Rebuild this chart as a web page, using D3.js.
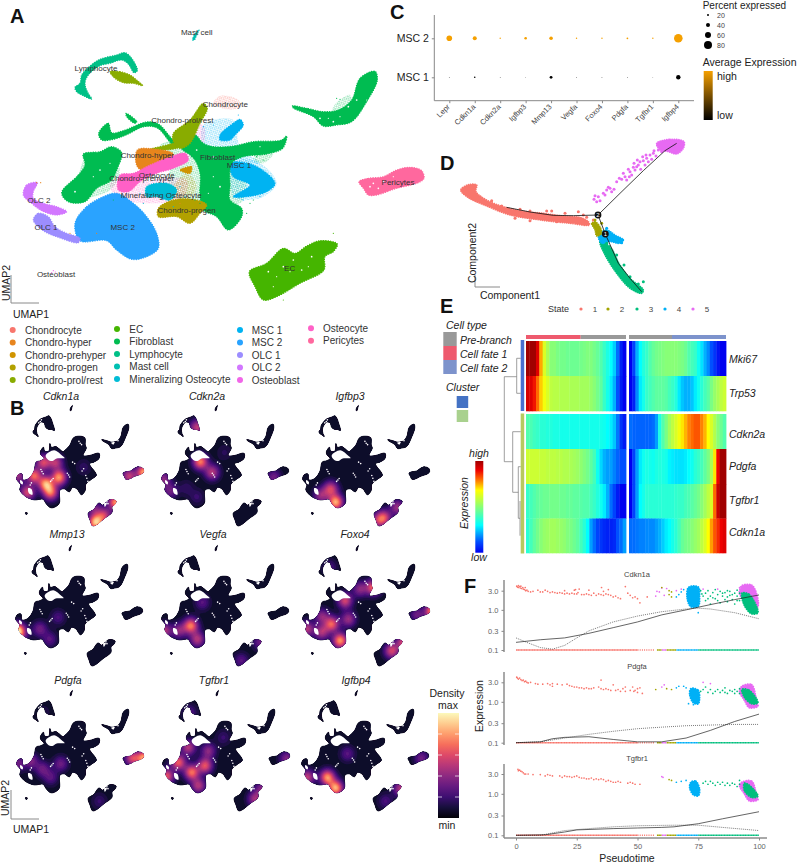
<!DOCTYPE html>
<html><head><meta charset="utf-8">
<script src="https://cdn.jsdelivr.net/npm/d3@7"></script>
<style>html,body{margin:0;padding:0;background:#fff}svg{display:block}text{font-family:"Liberation Sans",Arial,sans-serif}</style>
</head><body><svg id="c" width="800" height="863"></svg>
<script>
// ---------- DATA ----------
const clusterNames=["Chondrocyte","Chondro-hyper","Chondro-prehyper","Chondro-progen","Chondro-prol/rest","EC","Fibroblast","Lymphocyte","Mast cell","Mineralizing Osteocyte","MSC 1","MSC 2","OLC 1","OLC 2","Osteoblast","Osteocyte","Pericytes"];
const clusterColors=["#F8766D","#E7851E","#D09400","#B2A100","#89AC00","#45B500","#00BC51","#00C087","#00C0B2","#00BCD6","#00B3F2","#29A3FF","#9C8DFF","#D277FF","#F166E8","#FF61C7","#FF689E"];
const umapSparse=[
 ["Fibroblast",[[260,470],[340,470],[360,520],[330,570],[280,590],[240,590],[235,540]]],
 ["Fibroblast",[[650,490],[720,490],[740,560],[720,610],[640,600]]],
 ["Fibroblast",[[780,450],[820,460],[790,490],[760,480]]],
 ["Fibroblast",[[520,490],[610,470],[620,600],[570,610],[510,570]]],
 ["Fibroblast",[[480,435],[540,425],[560,470],[500,470]]],
 ["MSC 1",[[610,375],[700,360],[720,440],[780,490],[740,490],[680,480],[640,470],[610,440]]],
 ["MSC 1",[[700,480],[780,490],[830,550],[790,590],[720,600],[700,590]]],
 ["Osteocyte",[[330,550],[440,540],[560,540],[550,590],[450,610],[350,590]]],
 ["Chondro-prehyper",[[500,600],[560,520],[590,560],[560,600]]],
 ["Chondrocyte",[[640,310],[660,288],[715,300],[722,322],[680,328]]],
 ["Osteocyte",[[555,385],[610,375],[605,450],[560,470]]],
 ["Chondro-hyper",[[240,660],[300,620],[290,700],[250,700]]],
 ["Fibroblast",[[1000,320],[1050,285],[1050,335],[1000,345]]]
];
const umapShapes=[
 ["Lymphocyte",[[225,262],[240,250],[245,225],[268,200],[300,178],[350,165],[375,158],[395,175],[412,212],[402,218],[385,192],[365,180],[330,190],[300,197],[265,225],[255,250],[262,275],[275,297],[250,287],[230,275]]],
 ["Chondro-prol/rest",[[330,215],[360,215],[390,225],[410,240],[428,257],[400,250],[370,248],[345,235]]],
 ["Mast cell",[[578,120],[583,105],[597,90],[590,105],[583,120]]],
 ["Fibroblast",[[877,318],[925,326],[970,335],[1015,330],[1055,300],[1080,235],[1125,214],[1132,240],[1100,305],[1055,365],[1010,375],[970,378],[940,350],[880,324]]],
 ["EC",[[748,815],[800,790],[850,745],[885,760],[920,738],[960,722],[1012,732],[1000,755],[975,770],[972,810],[900,850],[830,890],[790,900],[765,860]]],
 ["Pericytes",[[1077,545],[1105,535],[1150,530],[1190,510],[1230,502],[1265,512],[1272,535],[1255,548],[1190,565],[1130,585],[1105,585],[1090,565]]],
 ["Fibroblast",[[185,578],[235,525],[255,495],[250,462],[300,455],[335,440],[365,458],[350,510],[335,540],[290,565],[255,605],[205,605]]],
 ["Fibroblast",[[296,400],[325,370],[335,398],[370,392],[440,366],[475,372],[510,410],[535,438],[520,436],[472,384],[432,380],[380,404],[340,418],[305,420]]],
 ["Fibroblast",[[378,340],[410,365],[405,370],[380,350]]],
 ["Chondro-prol/rest",[[450,448],[490,438],[540,428],[540,440],[490,450]]],
 ["MSC 1",[[660,405],[700,370],[720,358],[730,375],[705,405],[690,420],[660,420]]],
 ["MSC 1",[[690,490],[760,495],[825,550],[800,575],[740,590],[700,590],[750,555],[700,530]]],
 ["Fibroblast",[[610,430],[640,440],[700,438],[760,425],[845,420],[860,408],[848,445],[800,462],[730,470],[695,490],[690,560],[690,600],[725,625],[725,650],[685,690],[650,650],[610,630],[600,590],[600,520],[585,480],[570,465],[545,445],[560,425],[585,405]]],
 ["Chondro-prol/rest",[[520,400],[570,360],[610,310],[622,325],[600,370],[570,430],[540,445],[520,425]]],
 ["Chondro-hyper",[[412,450],[460,447],[520,462],[510,490],[470,505],[440,515],[412,500]]],
 ["Osteocyte",[[360,525],[400,520],[440,500],[500,475],[555,460],[565,480],[520,505],[470,520],[420,545],[385,575],[355,570]]],
 ["Mineralizing Osteocyte",[[440,560],[500,550],[530,570],[510,600],[470,590],[440,590]]],
 ["Chondro-progen",[[475,625],[520,600],[590,600],[620,615],[600,640],[570,670],[530,650],[475,650]]],
 ["Chondro-prehyper",[[235,680],[255,640],[280,615],[290,625],[270,655],[250,690]]],
 ["Chondro-prehyper",[[540,510],[575,500],[570,520]]],
 ["MSC 2",[[225,670],[260,620],[310,590],[350,580],[400,610],[440,650],[470,700],[475,745],[440,770],[395,778],[350,750],[320,722],[240,722]]],
 ["OLC 1",[[100,660],[115,640],[145,650],[165,680],[200,700],[240,715],[235,728],[175,712],[130,692]]],
 ["OLC 2",[[70,585],[80,555],[112,548],[100,575],[100,595],[130,610],[170,620],[200,635],[170,645],[125,632],[95,610]]]
];
const umapStrays=[
 ["MSC 1",[[760,575],[780,590],[730,600],[745,580],[690,380],[715,345],[640,375],[610,380],[675,410],[695,475]]],
 ["Fibroblast",[[600,570],[585,600],[600,610],[760,600],[200,560],[340,600],[810,440],[790,480],[770,470],[1010,295],[1020,298],[690,610],[740,640],[750,610]]],
 ["Mineralizing Osteocyte",[[420,580],[540,560],[555,590],[430,610],[480,540],[520,620]]],
 ["Chondro-hyper",[[110,548],[122,548],[210,700],[290,700],[540,610]]],
 ["Osteoblast",[[160,812],[166,816],[155,818]]],
 ["EC",[[850,900],[1000,700]]]
];
const umapWhite=[[805,815,3],[850,800,3],[880,780,3],[830,830,2],[905,810,3],[935,770,3],[1020,350,2],[1045,320,3],[1070,300,3],[1000,365,3],[985,355,2],[1120,550,3],[1150,545,3],[1135,565,3],[1180,530,2],[1110,560,3],[640,470,3],[590,450,3],[225,575,3],[730,420,3],[780,440,2],[380,190,2],[260,240,2],[960,355,3],[925,800,2],[870,815,2],[820,860,2],[1100,300,2],[640,530,2],[660,560,3],[625,580,2],[300,510,3],[330,490,2],[280,530,2]];
const umapLabels=[["Mast cell",590,96],["Lymphocyte",288,206],["Chondrocyte",676,313],["Chondro-prol/rest",547,361],["Chondro-hyper",442,466],["Fibroblast",653,472],["MSC 1",717,495],["Osteocyte",470,525],["Chondro-prehyper",425,536],["Mineralizing Osteocyte",484,585],["OLC 2",117,601],["Chondro-progen",560,632],["OLC 1",138,681],["MSC 2",368,682],["EC",869,805],["Pericytes",1194,546],["Osteoblast",168,822]];
const legendColumns=[["Chondrocyte","Chondro-hyper","Chondro-prehyper","Chondro-progen","Chondro-prol/rest"],["EC","Fibroblast","Lymphocyte","Mast cell","Mineralizing Osteocyte"],["MSC 1","MSC 2","OLC 1","OLC 2","Osteoblast"],["Osteocyte","Pericytes"]];
const silhouette=[
 [[70,585],[85,555],[120,550],[130,590],[185,580],[235,530],[255,470],[300,460],[330,445],[300,420],[295,400],[325,370],[335,395],[375,395],[385,345],[400,370],[440,365],[510,400],[520,395],[570,360],[610,305],[660,295],[715,305],[720,355],[730,375],[700,425],[760,425],[850,410],[850,445],[800,470],[760,480],[820,545],[825,560],[770,590],[725,620],[720,660],[685,690],[640,650],[600,640],[570,670],[520,650],[480,660],[475,745],[440,770],[395,778],[350,750],[320,720],[240,725],[170,708],[120,680],[100,655],[110,625],[85,600]],
 [[225,262],[240,250],[245,225],[268,200],[300,178],[350,165],[375,158],[395,175],[412,210],[428,257],[400,250],[370,248],[345,235],[330,205],[300,200],[265,230],[258,250],[262,275],[275,297],[250,285],[230,275]],
 [[576,122],[581,105],[598,88],[592,106],[585,122]],
 [[877,318],[925,326],[970,335],[1015,330],[1055,300],[1080,235],[1125,214],[1132,240],[1100,305],[1055,365],[1010,375],[970,378],[940,350],[880,324]],
 [[748,815],[800,790],[850,745],[885,760],[920,738],[960,722],[1012,732],[1000,755],[975,770],[972,810],[900,850],[830,890],[790,900],[765,860]],
 [[1077,545],[1105,535],[1150,530],[1190,510],[1230,502],[1265,512],[1272,535],[1255,548],[1190,565],[1130,585],[1105,585],[1090,565]],
 [[155,810],[170,812],[168,822],[155,820]]
];
const silhouetteHoles=[
 [[345,425],[425,390],[505,428],[525,442],[450,445],[410,462],[370,455]],
 [[180,645],[210,652],[220,690],[185,678]],
 [[105,590],[130,605],[125,620],[105,610]],
 [[965,340],[1000,335],[985,352]],
 [[900,748],[925,745],[905,772]]
];
const speckles=[[310,534],[300,520],[322,548],[404,591],[392,600],[416,580],[562,557],[550,545],[572,570],[735,579],[725,560],[745,600],[672,343],[660,330],[685,352],[294,197],[280,205],[305,185],[1020,310],[1030,325],[1005,322],[925,737],[935,750],[910,750],[199,624],[210,610],[690,530],[705,515],[600,470],[620,480]];
const densityGenes=["Cdkn1a","Cdkn2a","Igfbp3","Mmp13","Vegfa","Foxo4","Pdgfa","Tgfbr1","Igfbp4"];
const densityTitlePos=[[61,396],[207,396],[350,396],[67,534],[213,534],[355,534],[68,680],[214,680],[356,680]];
const densityMast=[[71,408],[216,408],[357,408],[70,548],[216,548],[357,548],[71,693],[217,693],[356,693]];
const densitySpots=[
 [[230,557,.6],[341,611,.7],[467,568,.7],[388,669,.6],[168,669,.5],[319,467,.5],[435,467,.42],[73,557,.36],[1272,534,.75],[1130,560,.45],[814,871,.8],[1004,736,.7],[893,825,.45],[700,500,.1],[800,780,.25]],
 [[400,231,.45],[432,462,.65],[543,534,.42],[85,580,.32],[148,660,.26],[1127,568,.26],[300,640,.1],[400,700,.12],[660,400,.08]],
 [[331,646,.5],[379,736,.75],[237,690,.35],[836,838,.48],[963,770,.36],[780,860,.35]],
 [[79,658,.85],[294,646,.26],[388,716,.2],[467,568,.16],[120,680,.2]],
 [[341,624,.65],[404,716,.42],[88,658,.42],[230,658,.32],[451,467,.2],[820,860,.2],[1000,735,.25]],
 [[420,725,.7],[341,613,.58],[246,668,.4],[467,455,.5],[609,377,.32],[736,365,.6],[104,645,.42],[499,580,.36],[246,560,.32],[1294,527,.72],[909,793,.5],[1020,736,.5],[1150,550,.25],[320,230,.16]],
 [[199,557,.3],[310,613,.25],[483,577,.25],[388,669,.2],[73,577,.26],[1272,538,.72],[1160,540,.5],[850,830,.12],[320,230,.06]],
 [[341,635,.62],[467,590,.55],[214,568,.58],[404,725,.42],[104,662,.55],[309,467,.42],[499,490,.32],[940,815,.38],[1240,543,.3],[1005,745,.3],[320,230,.18],[640,400,.12]],
 [[309,669,.7],[388,741,.75],[120,669,.45],[499,510,.2],[1004,745,.42],[860,830,.16],[1200,540,.25]]
];
const dotGenes=["Lepr","Cdkn1a","Cdkn2a","Igfbp3","Mmp13","Vegfa","Foxo4","Pdgfa","Tgfbr1","Igfbp4"];
const dotGroups=["MSC 1","MSC 2"];
const pctMSC2=[56,40,14,26,36,14,14,18,14,86];
const pctMSC1=[8,16,8,6,28,8,8,8,6,44];
const exprMSC2=[1,1,1,1,1,1,1,1,1,1];
const exprMSC1=[0,0,0,0,0,0,0,0,0,0];
const pctTicks=[20,40,60,80];
const stateNames=["1","2","3","4","5"];
const stateColors=["#F8766D","#A3A500","#00BF7D","#00B0F6","#E76BF3"];
const trajBands=[
 ["1",[[92,180],[115,164],[140,165],[138,185],[180,215],[260,240],[340,250],[400,258],[450,262],[475,275],[478,285],[420,280],[330,270],[240,255],[170,228],[115,203]]],
 ["5",[[680,40],[720,28],[762,35],[760,55],[740,72],[715,65],[690,60]]],
 ["3",[[510,335],[540,350],[570,405],[600,445],[640,480],[635,490],[600,475],[560,430],[525,375]]],
 ["4",[[505,315],[530,300],[555,315],[580,330],[570,340],[540,335],[515,340]]],
 ["2",[[485,280],[495,275],[510,290],[515,310],[500,318],[495,300]]]
];
const trajPoints5=[[495,197],[492,208],[505,200],[510,212],[520,190],[500,215],[530,180],[540,175],[545,185],[552,178],[560,155],[575,148],[585,140],[590,150],[600,125],[605,135],[612,100],[615,120],[625,105],[630,95],[632,118],[640,92],[645,105],[650,85],[655,95],[660,75],[665,88],[670,70],[678,78],[685,60],[690,48],[695,65],[568,145],[580,130],[595,118],[610,112],[622,90],[638,80],[525,195],[535,172],[598,140],[620,110],[648,75],[672,62],[683,45]];
const trajPoints1=[[150,200],[185,212],[215,228],[270,238],[300,243],[350,243],[365,243],[405,250],[445,245],[460,255],[470,262],[490,270],[255,265],[300,272],[380,275]];
const trajPoints3=[[530,340],[560,375],[582,405],[640,455],[625,462],[600,440],[575,420],[548,395]];
const trajPoints2=[[515,280],[495,270]];
const trajPoints4=[[530,295],[575,338],[578,330]];
const trajTrunk=[[230,232],[300,246],[370,256],[430,257],[504,255]];
const trajBranchA=[[504,255],[570,190],[640,122],[705,62],[740,40]];
const trajBranchB=[[504,255],[526,312],[565,400],[600,445],[635,485]];
const trajNodes=[["2",504,255],["1",526,312]];
const heatGenes=["Mki67","Trp53","Cdkn2a","Pdgfa","Tgfbr1","Cdkn1a"];
const heatLeft=[
 [1,1,1,.92,.75,.62,.55,.5,.5,.48,.47,.47,.46,.46,.46,.46,.47,.48,.49,.49,.47,.45,.42,.38,.34,.3,.25,.15,.05,0],
 [.93,.92,.88,.8,.72,.66,.62,.58,.57,.57,.56,.56,.56,.55,.55,.55,.54,.54,.54,.52,.5,.47,.44,.38,.33,.28,.22,.12,.04,0],
 [.42,.41,.39,.38,.36,.36,.35,.35,.34,.34,.33,.33,.33,.33,.33,.33,.33,.33,.33,.33,.33,.33,.33,.32,.3,.28,.24,.16,.08,.04],
 [.6,.6,.6,.6,.59,.59,.58,.58,.58,.57,.57,.56,.56,.55,.54,.53,.51,.49,.47,.44,.4,.32,.26,.22,.2,.2,.17,.14,.12,.12],
 [.38,.4,.42,.44,.45,.46,.46,.47,.47,.47,.46,.46,.45,.45,.44,.44,.43,.42,.42,.4,.38,.35,.32,.28,.22,.15,.1,.04,0,0],
 [.36,.4,.44,.47,.5,.52,.53,.54,.54,.53,.52,.51,.49,.48,.46,.44,.4,.36,.3,.2,.15,.1,.08,.06,.05,.05,.06,.12,.15,.2]];
const heatRight=[
 [0,.1,.22,.3,.35,.38,.42,.45,.47,.48,.49,.5,.5,.5,.5,.49,.48,.46,.42,.4,.38,.32,.27,.22,.18,.12,.08,.03,0,0],
 [0,.05,.18,.28,.33,.38,.4,.42,.44,.44,.44,.43,.4,.38,.35,.28,.24,.22,.22,.24,.28,.32,.36,.4,.43,.48,.52,.55,.58,.6],
 [.15,.14,.14,.14,.14,.14,.14,.15,.2,.34,.42,.48,.54,.58,.62,.66,.7,.74,.78,.8,.82,.82,.78,.74,.68,.62,.56,.5,.46,.42],
 [0,.1,.2,.28,.32,.34,.33,.32,.34,.35,.34,.33,.29,.28,.27,.27,.27,.28,.3,.32,.36,.38,.4,.44,.48,.55,.7,.9,1,1],
 [0,.1,.2,.3,.33,.36,.36,.36,.36,.36,.36,.36,.36,.36,.37,.38,.38,.4,.41,.43,.45,.47,.5,.54,.58,.62,.8,.95,1,1],
 [.15,.15,.16,.17,.17,.18,.18,.18,.2,.22,.25,.28,.3,.33,.36,.4,.45,.47,.48,.5,.52,.54,.58,.62,.68,.76,.82,.86,.9,.92]];
const jetStops=[0,.12,.3,.45,.6,.68,.8,.9,1];
const jetColors=["#0000f0","#0050ff","#00ffff","#66ff99","#ccff33","#ffff00","#ff6a00","#ee0000","#a00000"];
const cellTypes=[["Pre-branch","#999999"],["Cell fate 1","#EE5A6E"],["Cell fate 2","#7D93CC"]];
const clusterSwatches=["#4472C4","#A9D18E"];
const fGenes=["Cdkn1a","Pdgfa","Tgfbr1"];
const fTicksY=[.1,.3,1,3];
const fTicksX=[0,25,50,75,100];
const fSolid=[
 [[0,.155],[10,.18],[20,.2],[30,.26],[40,.36],[50,.5],[60,.75],[70,1],[80,1.35],[90,1.8],[100,2.35]],
 [[0,.1],[10,.105],[15,.125],[20,.135],[30,.14],[40,.12],[50,.105],[60,.105],[70,.13],[80,.2],[90,.33],[100,.5]],
 [[0,.1],[12,.103],[20,.12],[25,.135],[40,.145],[50,.15],[60,.155],[65,.16],[75,.19],[85,.25],[100,.37]]];
const fDotted=[
 [[0,.2],[5,.15],[10,.115],[15,.105],[20,.13],[25,.2],[30,.3],[40,.5],[50,.7],[60,.9],[70,1.05],[75,1.1],[80,1.05],[90,.85],[100,.6]],
 [[0,.1],[10,.105],[20,.13],[30,.16],[40,.19],[50,.22],[60,.24],[70,.26],[80,.27],[90,.28],[100,.28]],
 [[0,.1],[10,.1],[20,.13],[30,.145],[40,.16],[50,.17],[65,.175],[75,.175],[85,.155],[100,.13]]];
const fRed=[
 [[.3,3.9],[.6,3.7],[1,4],[1,3.6],[1.5,3.8],[1.8,3.5],[2,3.9],[2.3,3.4],[2.8,3.6],[3,3.3],[3.5,3.2],[3.8,3.6],[4,3],[4.5,3.1],[5,2.9],[6,2.8],[7,2.9],[9,3.1],[10,2.8],[11,2.8],[12,3.1],[13,2.9],[14,2.7],[15,2.8],[16,2.7],[17,2.6],[18,2.7],[19,2.6],[20,2.5],[21,2.6],[22,2.5],[23,2.6],[24,2.5],[24.5,3.2],[25,2.5],[24,3.1],[26,3.3],[25.5,2.7],[27,2.4],[28,2.4],[29,2.5],[30,2.4],[31,2.3],[32,2.6],[33,2.3],[34,2.5],[35,2.4],[35.2,3.6],[36,2.9],[36,2.3],[37,2.5],[38,3.2],[38,2.4],[39,2.3],[40,2.1],[41,2.2],[42,2],[43,1.9],[45,3.8],[46,2.6],[47,2.3],[48,2],[49,2.1],[50,1.9],[51,1.5],[54,2.1],[30,3.1],[20,3]],
 [[.3,4],[.6,3.8],[1,3.6],[1.5,3.8],[2,3.5],[2.5,3.3],[3,3.4],[3.5,3.1],[4,3.2],[4.5,3],[5,2.9],[6,3],[8,2.8],[9,2.7],[11,2.7],[13,2.8],[14,2.6],[15,2.4],[15,2.8],[17,2.7],[19,2.6],[21,2.7],[22,2.5],[23,2.4],[24,2.3],[25,2.3],[26,2.2],[27,2.2],[28,2.1],[29,2.2],[30,2.1],[31,2.1],[32,2.2],[34,2.3],[35,2.1],[35,3.4],[36,2],[37,2.1],[38,2],[39,1.9],[40,2.6],[41,1.9],[42,2],[43,1.8],[44,2.1],[45,1.8],[45,2.3],[47,1.9],[48,2.3],[48.5,1.8],[49,1.9],[50,1.7],[50,2.1],[51,2.2],[52,1.6]],
 [[.8,3.9],[1,3.6],[1.5,3.7],[2,3.5],[2.5,3.4],[3,3.2],[3.5,3],[4,3],[5,3],[7,2.9],[10,2.9],[12,2.7],[13,2.9],[14,2.8],[15,2.7],[18,2.7],[19,2.5],[20,2.7],[21,2.6],[22,2.6],[23,2.5],[24,2.6],[25,2.7],[26,2.5],[27,2.4],[28,2.4],[29,2.3],[30,2.3],[31,2.4],[32,2.2],[33,2.3],[34,2.2],[35,2.3],[36,2.2],[37,2],[38,2.1],[39,2],[40,1.9],[41,1.9],[42,2],[43,1.9],[46,1.8],[47,1.9],[48,1.8],[49,1.7],[51,1.7]]];
const fOther=[
 [[58,2.9,"5"],[59,2.8,"5"],[60,3.5,"5"],[57.5,2.2,"5"],[61,2.3,"5"],[62,3.4,"5"],[66,3,"5"],[68,3.3,"5"],[63,3,"2"],[63,2.4,"2"],[64,2.1,"2"],[60,3.6,"2"],[64,2.8,"2"],[67,2.4,"4"],[68,2.8,"4"],[69,3.2,"4"],[66,2.1,"4"],[75,.85,"4"],[76,3,"3"],[77,2.2,"3"],[78,2.6,"3"],[78,1.7,"3"],[79,3,"3"],[80,2.2,"3"],[80,1.4,"3"],[81,2.7,"3"],[82,1.9,"3"],[82,3.2,"3"],[83,2.4,"3"],[84,1.5,"3"],[84,2.9,"3"],[85,2.2,"3"],[86,1.8,"3"],[86,2.7,"3"],[87,3,"3"],[87,1.6,"3"],[88,2.3,"3"],[88,2.9,"3"],[89,1.8,"3"],[90,2.6,"3"],[90,1.4,"3"],[91,2.2,"3"],[91,3.1,"3"],[92,1.7,"3"],[92,2.6,"3"],[83,3.3,"5"],[77,3.3,"5"],[92,3.6,"5"],[76.5,2.5,"3"],[79,1.9,"3"],[81,2,"3"],[83,1.7,"3"],[85,2.6,"3"],[87,2.1,"3"],[89,2.4,"3"],[91,1.7,"3"],[93,2,"3"]],
 [[57.5,2,"2"],[60,2.3,"5"],[61,2.6,"5"],[62,2.1,"2"],[64,2,"2"],[66,2.2,"4"],[67,2.4,"4"],[69,2.4,"4"],[70,2.2,"4"],[77,2,"3"],[78,2.3,"3"],[79,1.7,"3"],[76,1.8,"3"],[80,2,"3"],[81,1.6,"3"],[82,1.8,"3"],[83,2,"3"],[84,1.7,"3"],[85,1.9,"3"],[86,1.7,"3"],[86,2.2,"3"],[87,1.6,"3"],[88,1.9,"3"],[89,1.8,"3"],[90,1.6,"3"],[90,2,"3"],[91,1.8,"3"],[92,1.6,"3"],[92,2.1,"3"],[77,3,"5"],[80,2.8,"5"],[71,.9,"4"],[73,.85,"4"]],
 [[60,2.6,"5"],[60.5,2.5,"5"],[63,2.2,"2"],[64,2.1,"2"],[66,1.9,"4"],[68,2,"4"],[70,2.1,"4"],[77,1.8,"3"],[78,2,"3"],[79,1.7,"3"],[80,2,"3"],[81,1.8,"3"],[82,1.6,"3"],[83,1.9,"3"],[84,1.7,"3"],[85,1.9,"3"],[86,1.6,"3"],[87,1.8,"3"],[88,1.6,"3"],[89,1.8,"3"],[90,1.7,"3"],[91,1.5,"3"],[92,1.7,"3"],[92,2.1,"3"]]];
const fClouds=[
 [["5",[[93,4],[97,4.1],[99,2.5],[99.5,1.2],[97,.9],[94,1.6],[92,2.6]]],["4",[[71,3.6],[75,3.7],[75.5,2.2],[75,1.25],[72,1.2],[70.5,1.9]]],["3",[[93,2.6],[96,2.4],[99.5,.85],[97,.8],[94,1.3]]]],
 [["4",[[72,2.1],[75,1.9],[75.5,1.2],[75,.9],[73,.95],[71.5,1.5]]],["5",[[93,2.4],[97,2.6],[99,1],[99.5,.78],[96,.72],[94,1.1],[92,1.8]]],["3",[[93,2],[96,1.9],[99.5,.95],[97,.9],[94,1.3]]]],
 [["4",[[72,1.9],[74,2],[75.5,1.3],[75,.9],[73,.95],[71.5,1.4]]],["5",[[93,1.9],[97,2],[99,.9],[99.5,.72],[96,.68],[94,1],[92,1.6]]],["3",[[94,1.8],[96,1.6],[99.5,.88],[97,.82],[94,1.2]]]]];
const fRugSegments=[[0,50,"1"],[50,57,"1"],[58,60,"2"],[60,62,"5"],[62,66,"2"],[66,75,"4"],[75,100,"3"]];

// ---------- HELPERS ----------
const svg=d3.select("#c");
svg.append("rect").attr("width",800).attr("height",863).attr("fill","#fff");
const defs=svg.append("defs");
defs.append("filter").attr("id","soft").attr("x","-5%").attr("y","-5%").attr("width","110%").attr("height","110%").append("feGaussianBlur").attr("stdDeviation",.35);
const colorOf=d3.scaleOrdinal(clusterNames,clusterColors);
const stateColor=d3.scaleOrdinal(stateNames,stateColors);
clusterNames.forEach((n,i)=>{const p=defs.append("pattern").attr("id","sp"+i).attr("width",2.8).attr("height",2.8).attr("patternUnits","userSpaceOnUse").attr("patternTransform","rotate(27)");
 p.append("circle").attr("cx",.9).attr("cy",.9).attr("r",.6).attr("fill",clusterColors[i]);p.append("circle").attr("cx",2.2).attr("cy",2).attr("r",.4).attr("fill",clusterColors[i]);});
function txt(g,s,x,y,o={}){const t=g.append("text").attr("x",x).attr("y",y).attr("dominant-baseline","central").attr("font-size",o.size||10.5).attr("fill",o.fill||"#222").attr("text-anchor",o.anchor||"start").text(s);
 if(o.italic)t.attr("font-style","italic");if(o.bold)t.attr("font-weight","bold");if(o.rot!=null)t.attr("transform",`rotate(${o.rot} ${x} ${y})`);return t;}
function cross(g,xs,ys,w,len){g.append("path").attr("d",d3.line()([[xs,ys-len[1]],[xs,ys],[xs+len[0],ys]])).attr("fill","none").attr("stroke","#8a8a8a").attr("stroke-width",w);}
function fringe(sel,col,w,gap){return sel.attr("stroke",col).attr("stroke-width",w).attr("stroke-dasharray",`0.2 ${gap}`).attr("stroke-linecap","round");}
[["A",10,23],["B",10,415],["C",390,18.5],["D",440,170],["E",440,313],["F",464,593]].forEach(([s,x,y])=>svg.append("text").attr("x",x).attr("y",y).attr("font-size",20).attr("font-weight","bold").attr("fill","#111").text(s));

// ---------- PANEL A ----------
const ax=d3.scaleLinear([0,1320],[0,440]),ay=d3.scaleLinear([0,930],[0,310]);
const gA=svg.append("g");
const gAm=gA.append("g").attr("filter","url(#soft)");
const lineA=d3.line().x(d=>ax(d[0])).y(d=>ay(d[1])).curve(d3.curveCatmullRomClosed.alpha(.5));
gAm.selectAll("path.s").data(umapSparse).join("path").attr("d",d=>lineA(d[1])).attr("fill",d=>`url(#sp${clusterNames.indexOf(d[0])})`);
fringe(gAm.selectAll("path.c").data(umapShapes).join("path").attr("d",d=>lineA(d[1])).attr("fill",d=>colorOf(d[0])),null,1.3,2.2).attr("stroke",d=>colorOf(d[0]));
umapStrays.forEach(([n,pts])=>gAm.selectAll(null).data(pts).join("circle").attr("cx",d=>ax(d[0])).attr("cy",d=>ay(d[1])).attr("r",.6).attr("fill",colorOf(n)));
gAm.selectAll("circle.w").data(umapWhite).join("circle").attr("cx",d=>ax(d[0])).attr("cy",d=>ay(d[1])).attr("r",d=>d[2]/3.5).attr("fill","#fff");
umapLabels.forEach(([s,x,y])=>txt(gA,s,ax(x),ay(y),{size:8,anchor:"middle",fill:"#333"}));
cross(gA,11,303,1,[28,28]);
txt(gA,"UMAP2",6,283,{rot:-90,anchor:"middle",size:10.5});
txt(gA,"UMAP1",13,314,{size:10.5});
const legX=[[12.7,25],[117,129.3],[240,251.7],[311,323]];
legendColumns.forEach((col,i)=>col.forEach((n,j)=>{const y=(i==3?328.3:(i==1?329:330))+j*12.5;
 svg.append("circle").attr("cx",legX[i][0]).attr("cy",y).attr("r",3).attr("fill",colorOf(n));
 txt(svg,n,legX[i][1],y,{size:10,fill:"#333"});}));

// ---------- PANEL B ----------
const gridW=132,gridH=93,gridStep=10;
const magma=d3.interpolateMagma;
const levels=d3.range(0,1.001,.04);
densityGenes.forEach((g,i)=>{
 const [tx,ty]=densityTitlePos[i],[mx,my]=densityMast[i];
 txt(svg,g,tx,ty,{italic:true,anchor:"middle",size:10.5});
 const bx=d3.scaleLinear([585,1200],[mx,mx+(1200-585)*.1056]),by=d3.scaleLinear([105,905],[my,my+800*.1483]);
 const id="clip"+i;
 const ln=d3.line().x(d=>bx(d[0])).y(d=>by(d[1])).curve(d3.curveCatmullRomClosed.alpha(.5));
 const cp=defs.append("clipPath").attr("id",id);
 silhouette.forEach(p=>cp.append("path").attr("d",ln(p)));
 const grid=new Array(gridW*gridH);
 for(let r=0;r<gridH;r++)for(let c=0;c<gridW;c++){let v=.09;const X=c*gridStep,Y=r*gridStep;
  densitySpots[i].forEach(([a,b,m])=>{v+=m*Math.exp(-((X-a)*(X-a)/(2*48*48)+(Y-b)*(Y-b)/(2*36*36)));});grid[r*gridW+c]=Math.min(v,.97);}
 const contours=d3.contours().size([gridW,gridH]).thresholds(levels)(grid);
 const proj=d3.geoTransform({point(x,y){this.stream.point(bx(x*gridStep),by(y*gridStep));}});
 const gp=d3.geoPath(proj);
 const gB=svg.append("g").attr("filter","url(#soft)");
 gB.selectAll("path.sil").data(silhouette).join("path").attr("d",ln).attr("fill","#0b0724").attr("stroke","#0b0724").attr("stroke-width",.7);
 gB.append("g").attr("clip-path",`url(#${id})`).selectAll("path").data(contours).join("path").attr("d",gp).attr("fill",d=>magma(Math.max(d.value,.03)));
 gB.selectAll("path.h").data(silhouetteHoles).join("path").attr("d",ln).attr("fill","#fff");
 gB.selectAll("circle").data(speckles).join("circle").attr("cx",d=>bx(d[0])).attr("cy",d=>by(d[1])).attr("r",.8).attr("fill","#fff");
});
cross(svg,11,819,1,[28,29]);
txt(svg,"UMAP2",4.5,798,{rot:-90,anchor:"middle",size:10.5});
txt(svg,"UMAP1",31,829,{anchor:"middle",size:10.5});
txt(svg,"Density",447,693,{anchor:"middle",size:10.5});
txt(svg,"max",448,705,{anchor:"middle",size:10.5});
txt(svg,"min",447,825,{anchor:"middle",size:10.5});
const mg=defs.append("linearGradient").attr("id","mg").attr("x1",0).attr("y1",1).attr("x2",0).attr("y2",0);
d3.range(0,1.01,.1).forEach(t=>mg.append("stop").attr("offset",t).attr("stop-color",magma(t*.98+.01)));
svg.append("rect").attr("x",438).attr("y",713).attr("width",21).attr("height",105).attr("fill","url(#mg)");
const legendDensityY=d3.scaleLinear([0,1],[818,713]);
[.2,.4,.6,.8].forEach(t=>{svg.append("path").attr("d",d3.line()([[438,legendDensityY(t)],[442,legendDensityY(t)]])).attr("stroke","#fff").attr("stroke-opacity",.7);svg.append("path").attr("d",d3.line()([[455,legendDensityY(t)],[459,legendDensityY(t)]])).attr("stroke","#fff").attr("stroke-opacity",.7);});

// ---------- PANEL C ----------
const gC=svg.append("g");
const cx=d3.scalePoint(dotGenes,[449.3,678.3]);
const cy=d3.scalePoint(dotGroups,[77.3,38.3]);
const cr=d3.scaleLinear([0,80],[0,4]);
const cc=d3.scaleLinear([0,1],["#000000","#F5A000"]);
const axC=gC.append("g").attr("transform","translate(0,100.7)").call(d3.axisBottom(cx).tickSize(2.5).tickSizeOuter(0));
axC.selectAll("text").attr("transform","translate(-1,5) rotate(-45)").attr("text-anchor","end").attr("dy",".3em").attr("y",0).attr("x",0).attr("font-size",7.5).attr("fill","#444").attr("font-family","Liberation Sans");
axC.select(".domain").attr("d",d3.line()([[434.3,0],[694,0]])).attr("stroke","#888").attr("stroke-width",1);
axC.selectAll("line").attr("stroke","#888");
const ayC=gC.append("g").attr("transform","translate(434.3,0)").call(d3.axisLeft(cy).tickSize(2.5).tickSizeOuter(0));
ayC.selectAll("text").attr("font-size",10.5).attr("fill","#222").attr("font-family","Liberation Sans");
ayC.select(".domain").attr("d",d3.line()([[0,15],[0,100.7]])).attr("stroke","#888").attr("stroke-width",1);
ayC.selectAll("line").attr("stroke","#888");
[[ "MSC 1",pctMSC1,exprMSC1],["MSC 2",pctMSC2,exprMSC2]].forEach(([grp,p,e])=>{
 gC.selectAll(null).data(dotGenes).join("circle").attr("cx",d=>cx(d)).attr("cy",cy(grp)).attr("r",(d,i)=>cr(p[i])).attr("fill",(d,i)=>cc(e[i]));});
txt(gC,"Percent expressed",702.7,5.5,{size:10});
pctTicks.forEach((p,i)=>{const y=15+i*10;gC.append("circle").attr("cx",708).attr("cy",y).attr("r",cr(p)).attr("fill","#000");txt(gC,p,717,y,{size:7,fill:"#444"});});
txt(gC,"Average Expression",702.7,62,{size:10.5});
const ag=defs.append("linearGradient").attr("id","ag").attr("x1",0).attr("y1",1).attr("x2",0).attr("y2",0);
ag.append("stop").attr("offset",0).attr("stop-color",cc(0));ag.append("stop").attr("offset",1).attr("stop-color",cc(1));
gC.append("rect").attr("x",703.7).attr("y",71).attr("width",9).attr("height",49).attr("fill","url(#ag)");
txt(gC,"high",717,76,{size:10.5});txt(gC,"low",717,115,{size:10.5});

// ---------- PANEL D ----------
const gD=svg.append("g");
const gDm=gD.append("g").attr("filter","url(#soft)");
const dx=d3.scaleLinear([0,1110],[430,800]),dy=d3.scaleLinear([0,570],[130,320]);
const lineDc=d3.line().x(d=>dx(d[0])).y(d=>dy(d[1])).curve(d3.curveCatmullRomClosed.alpha(.5));
const lineD=d3.line().x(d=>dx(d[0])).y(d=>dy(d[1]));
trajBands.forEach(([s,p])=>fringe(gDm.append("path").attr("d",lineDc(p)).attr("fill",stateColor(s)),stateColor(s),1.6,2));
[["5",trajPoints5],["1",trajPoints1],["3",trajPoints3],["2",trajPoints2],["4",trajPoints4]].forEach(([s,p])=>gDm.selectAll(null).data(p).join("circle").attr("cx",d=>dx(d[0])).attr("cy",d=>dy(d[1])).attr("r",1.5).attr("fill",stateColor(s)));
[trajTrunk,trajBranchA,trajBranchB].forEach(p=>gD.append("path").attr("d",lineD(p)).attr("fill","none").attr("stroke","#111").attr("stroke-width",.8));
trajNodes.forEach(([s,x,y])=>{gD.append("circle").attr("cx",dx(x)).attr("cy",dy(y)).attr("r",3.4).attr("fill","#111");txt(gD,s,dx(x),dy(y),{size:6,fill:"#fff",anchor:"middle"});});
cross(gD,475,287,1,[25,12]);
txt(gD,"Component2",472,253,{rot:-90,anchor:"middle",size:10.5});
txt(gD,"Component1",510,295,{anchor:"middle",size:10.5});
txt(gD,"State",548,309,{size:9,fill:"#333"});
stateNames.forEach((s,i)=>{const cxs=[581,608,637,665,693][i];gD.append("circle").attr("cx",cxs).attr("cy",309).attr("r",1.6).attr("fill",stateColor(s));txt(gD,s,cxs+14,309,{size:8,fill:"#444",anchor:"middle"});});

// ---------- PANEL E ----------
const gE=svg.append("g");
const jet=d3.scaleLinear(jetStops,jetColors);
const colIdx=d3.range(30);
const xL=d3.scaleBand(colIdx,[526,626]),xR=d3.scaleBand(colIdx,[629,726]);
const rowY=[[341,376],[376,411],[414,449],[449,484],[484,518.5],[518.5,553]];
heatGenes.forEach((g,r)=>{[[xL,heatLeft],[xR,heatRight]].forEach(([xs,vals])=>{
 gE.selectAll(null).data(vals[r]).join("rect").attr("x",(d,i)=>xs(i)).attr("y",rowY[r][0]).attr("width",xs.bandwidth()+.4).attr("height",rowY[r][1]-rowY[r][0]+.3).attr("fill",d=>jet(d));});
 txt(gE,g,729,[359,393,434,466,500,532][r],{italic:true,size:10.5});});
[[526,580.7,1],[580.7,626,0],[629,672,0],[672,726,2]].forEach(([a,b,c])=>gE.append("rect").attr("x",a).attr("y",335).attr("width",b-a).attr("height",4).attr("fill",cellTypes[c][1]));
gE.append("rect").attr("x",520.7).attr("y",340).attr("width",3.5).attr("height",71).attr("fill","#4a6fd0");
gE.append("rect").attr("x",520.7).attr("y",413.5).attr("width",3.5).attr("height",140).attr("fill","#b7c95f");
const dendro=[[[504.3,376.7],[504.3,461.7]],[[504.3,376.7],[516.7,376.7]],[[516.7,358.3],[516.7,393.3]],[[516.7,358.3],[520.7,358.3]],[[516.7,393.3],[520.7,393.3]],[[504.3,461.7],[512.7,461.7]],[[512.7,431.7],[512.7,492.3]],[[512.7,431.7],[520.7,431.7]],[[512.7,492.3],[518.3,492.3]],[[518.3,466.7],[518.3,518.3]],[[518.3,466.7],[520.7,466.7]],[[518.3,518.3],[520,518.3]],[[520,501],[520,535.7]]];
gE.selectAll("path.d").data(dendro).join("path").attr("d",d=>d3.line()(d)).attr("stroke","#777").attr("fill","none").attr("stroke-width",.7);
txt(gE,"Cell type",446,325,{italic:true});
cellTypes.forEach(([s,c],i)=>{gE.append("rect").attr("x",443.3).attr("y",332+i*14).attr("width",13.4).attr("height",14).attr("fill",c);txt(gE,s,460,340+i*14,{italic:true});});
txt(gE,"Cluster",446,387,{italic:true});
clusterSwatches.forEach((c,i)=>gE.append("rect").attr("x",456.7).attr("y",396+i*14).attr("width",11.5).attr("height",12).attr("fill",c));
txt(gE,"high",479,453,{italic:true,anchor:"middle"});txt(gE,"low",479,557,{italic:true,anchor:"middle"});
txt(gE,"Expression",464,503,{italic:true,anchor:"middle",rot:-90});
const jg=defs.append("linearGradient").attr("id","jg").attr("x1",0).attr("y1",1).attr("x2",0).attr("y2",0);
jetStops.forEach((s,i)=>jg.append("stop").attr("offset",s).attr("stop-color",jetColors[i]));
gE.append("rect").attr("x",475.3).attr("y",461).attr("width",8).attr("height",91.7).attr("fill","url(#jg)");

// ---------- PANEL F ----------
const gF=svg.append("g");
const fx=d3.scaleLinear([0,100],[516,759]);
const fYmap=[[650,590.7,580,652,574],[742.7,682.3,672,745,666],[835.3,774,764,838,758]];
fGenes.forEach((g,i)=>{
 const [y01,y3,top,bot,ty]=fYmap[i];
 const fy=d3.scaleLog([.1,3],[y01,y3]);
 txt(gF,g,637,ty,{size:7.5,anchor:"middle",fill:"#444"});
 const a=gF.append("g").attr("transform","translate(504,0)").call(d3.axisLeft(fy).tickValues(fTicksY).tickFormat(d3.format(".1f")).tickSize(2.5).tickSizeOuter(0));
 a.select(".domain").attr("d",d3.line()([[0,top],[0,bot]])).attr("stroke","#8c8c8c").attr("stroke-width",1.5);
 a.selectAll("line").attr("stroke","#888");a.selectAll("text").attr("font-size",7.5).attr("fill","#666").attr("font-family","Liberation Sans");
 if(i==2){const b=gF.append("g").attr("transform","translate(0,838)").call(d3.axisBottom(fx).tickValues(fTicksX).tickSize(2.5).tickSizeOuter(0));
  b.select(".domain").attr("d",d3.line()([[504,0],[767,0]])).attr("stroke","#8c8c8c").attr("stroke-width",1.5);
  b.selectAll("line").attr("stroke","#888");b.selectAll("text").attr("font-size",7.5).attr("fill","#666").attr("font-family","Liberation Sans");}
 const ln=d3.line().x(d=>fx(d[0])).y(d=>fy(d[1]));
 const lnc=d3.line().x(d=>fx(d[0])).y(d=>fy(d[1])).curve(d3.curveCatmullRomClosed.alpha(.5));
 const gFm=gF.append("g").attr("filter","url(#soft)");
 fClouds[i].forEach(([s,p])=>fringe(gFm.append("path").attr("d",lnc(p)).attr("fill",stateColor(s)),stateColor(s),2,2.2));
 gFm.selectAll(null).data(fRed[i]).join("circle").attr("cx",d=>fx(d[0])).attr("cy",d=>fy(d[1])).attr("r",.85).attr("fill",stateColor("1"));
 gFm.selectAll(null).data(fOther[i]).join("circle").attr("cx",d=>fx(d[0])).attr("cy",d=>fy(d[1])).attr("r",.85).attr("fill",d=>stateColor(d[2]));
 fRugSegments.forEach(([a0,b0,s])=>gF.append("path").attr("d",d3.line()([[fx(a0),y01],[fx(b0),y01]])).attr("stroke",stateColor(s)).attr("stroke-width",1.6).attr("stroke-dasharray",a0==50?"1 1.2":"1.4 .2"));
 gF.append("path").attr("d",ln(fSolid[i])).attr("fill","none").attr("stroke","#222").attr("stroke-width",.7);
 gF.append("path").attr("d",ln(fDotted[i])).attr("fill","none").attr("stroke","#222").attr("stroke-width",.6).attr("stroke-dasharray","1 1");
});
txt(gF,"Expression",479,706,{rot:-90,anchor:"middle",size:10.5});
txt(gF,"Pseudotime",627,858,{anchor:"middle",size:10.5});
</script></body></html>
